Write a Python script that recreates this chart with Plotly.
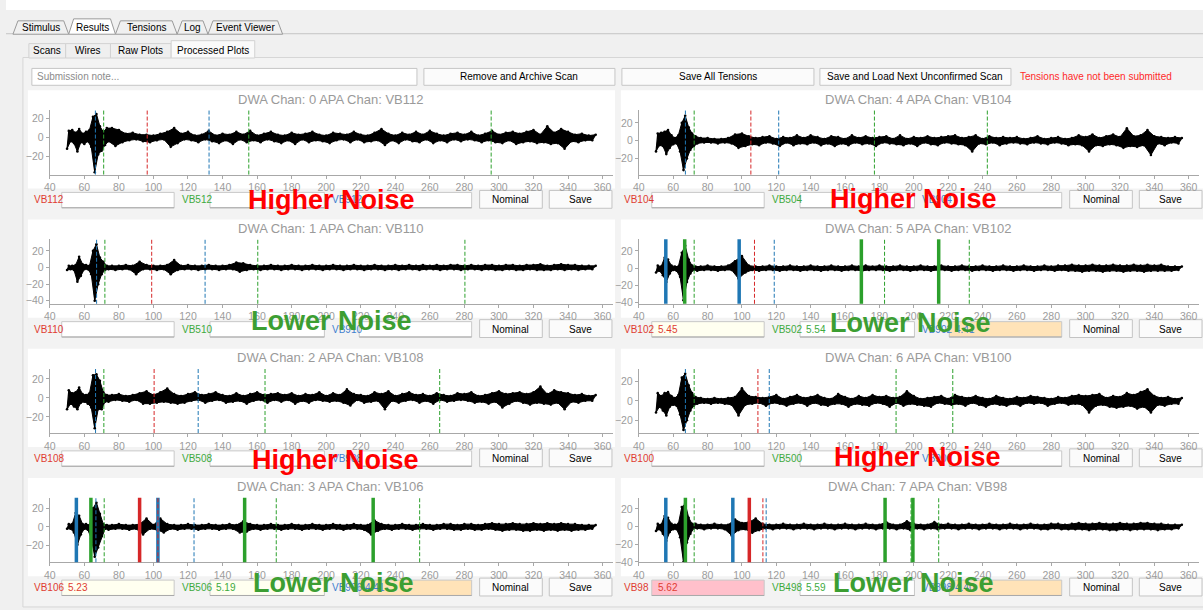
import plotly.graph_objects as go

W, H = 1203, 610

# ---------------------------------------------------------------- data
# Signal extremes: 1 Hz spacing through the low-frequency burst, 2 Hz after.
# Entries alternate between the lower (even positions) and upper (odd
# positions) edge of the recorded trace.
SAMPLE_X = list(range(50, 75)) + list(range(76, 357, 2))

SIGNAL_VB112 = [
    -12, 7, -4, 8, -6, 5, -15, 9, -5, 4,
    -7, 6, -4, 8, -10, 22, -37, 25, -18, 12,
    -14, 6, -8, 10, -4,
    10, -9, 8, -5, 4, -3, 5, -2, 3, -4,
    3, -5, 2, -3, 4, -2, 6, -10, 10, -6,
    4, -2, 6, -3, 2, -5, 3, -2, 7, -4,
    2, -6, 4, -3, 3, -7, 6, -2, 3, -5,
    7, -3, 2, -5, 4, -2, 6, -4, 3, -6,
    2, -3, 5, -7, 3, -2, 4, -5, 6, -3,
    3, -4, 2, -6, 5, -3, 4, -2, 3, -5,
    6, -2, 3, -5, 2, -4, 5, -3, 9, -8,
    4, -3, 2, -6, 5, -2, 3, -4, 6, -5,
    3, -2, 7, -6, 4, -3, 2, -5, 4, -2,
    5, -4, 3, -2, 6, -3, 2, -5, 4, -3,
    7, -5, 3, -6, 5, -3, 6, -7, 4, -5,
    6, -4, 8, -6, 3, -5, 12, -7, 5, -6,
    9, -12, 6, -4, 3, -5, 4, -3, 2, -3,
    3,
]
SIGNAL_VB104 = [
    -12, 8, -5, 9, -6, 10, -15, 12, -8, 6,
    -4, 3, -3, 6, -12, 20, -33, 28, -20, 15,
    -10, 8, -6, 5, -3,
    3, -2, 3, -2, 2, -3, 2, -2, 3, -3,
    7, -8, 8, -6, 5, -4, 3, -5, 4, -2,
    5, -3, 2, -6, 4, -2, 3, -5, 6, -3,
    3, -4, 6, -2, 4, -5, 2, -3, 5, -6,
    4, -3, 2, -5, 6, -2, 3, -4, 5, -3,
    3, -6, 4, -2, 5, -3, 2, -4, 6, -5,
    2, -3, 4, -6, 3, -2, 5, -4, 3, -5,
    4, -2, 5, -3, 6, -4, 3, -5, 4, -12,
    6, -3, 2, -4, 5, -2, 3, -5, 4, -3,
    3, -2, 4, -3, 2, -4, 3, -2, 5, -3,
    2, -4, 3, -2, 4, -3, 2, -5, 3, -4,
    6, -5, 4, -12, 7, -5, 3, -6, 5, -4,
    7, -5, 4, -8, 14, -6, 5, -7, 6, -5,
    12, -16, 5, -3, 4, -5, 3, -2, 4, -3,
    3,
]
SIGNAL_VB110 = [
    -3, 2, -2, 2, -3, 3, -17, 13, -10, 4,
    -2, 3, -2, 2, -8, 20, -40, 28, -20, 12,
    -8, 7, -3, 2, -2,
    2, -3, 2, -2, 3, -2, 2, -8, 7, -2,
    3, -2, 2, -3, 2, -2, 3, -8, 9, -3,
    2, -2, 3, -2, 2, -3, 2, -2, 3, -2,
    2, -3, 2, -2, 3, -2, 6, -5, 5, -3,
    3, -2, 2, -3, 2, -2, 3, -2, 2, -3,
    2, -2, 3, -2, 2, -3, 2, -2, 3, -2,
    2, -3, 2, -2, 3, -2, 2, -3, 2, -2,
    3, -2, 2, -3, 2, -2, 3, -2, 2, -3,
    2, -2, 3, -3, 2, -2, 3, -2, 2, -3,
    3, -2, 2, -2, 3, -3, 2, -2, 3, -2,
    3, -3, 2, -2, 3, -2, 2, -3, 3, -2,
    3, -3, 2, -3, 3, -2, 3, -3, 2, -3,
    3, -2, 3, -3, 4, -3, 2, -3, 3, -2,
    4, -3, 3, -2, 3, -3, 2, -2, 2, -2,
    2,
]
SIGNAL_VB102 = [
    -5, 3, -3, 2, -8, 12, -16, 10, -6, 3,
    -2, 2, -3, 2, -10, 18, -37, 26, -16, 10,
    -6, 3, -2, 2, -3,
    2, -2, 3, -2, 2, -3, 2, -2, 3, -2,
    8, -12, 14, -5, 3, -2, 2, -3, 2, -2,
    3, -2, 2, -3, 2, -2, 3, -2, 2, -3,
    2, -2, 3, -2, 2, -3, 2, -2, 3, -2,
    2, -3, 2, -2, 3, -2, 2, -3, 3, -2,
    2, -2, 3, -2, 2, -3, 2, -2, 3, -2,
    2, -3, 2, -2, 3, -2, 2, -3, 2, -2,
    3, -2, 2, -3, 2, -2, 3, -2, 2, -3,
    2, -2, 3, -2, 2, -3, 2, -2, 3, -2,
    2, -3, 2, -2, 3, -2, 2, -3, 2, -2,
    3, -2, 2, -3, 3, -2, 3, -3, 4, -3,
    3, -4, 3, -3, 4, -3, 3, -4, 3, -3,
    4, -3, 3, -4, 3, -3, 4, -3, 3, -4,
    4, -3, 3, -3, 4, -3, 2, -3, 2, -2,
    2,
]
SIGNAL_VB108 = [
    -12, 8, -6, 5, -9, 6, -12, 11, -5, 4,
    -4, 3, -6, 5, -10, 24, -32, 25, -12, 18,
    -12, 6, -4, 3, -4,
    3, -2, 4, -3, 2, -4, 3, -2, 5, -6,
    7, -6, 3, -5, 6, -4, 10, -5, 4, -6,
    2, -5, 4, -3, 6, -2, 3, -5, 4, -3,
    6, -2, 3, -5, 2, -4, 5, -3, 2, -6,
    4, -3, 6, -2, 3, -5, 4, -2, 5, -4,
    3, -2, 5, -6, 2, -3, 4, -5, 3, -2,
    6, -3, 2, -4, 5, -3, 3, -5, 9, -8,
    4, -2, 3, -5, 2, -4, 6, -3, 4, -12,
    7, -3, 2, -5, 4, -3, 6, -2, 3, -5,
    4, -3, 2, -6, 5, -2, 3, -4, 2, -3,
    5, -2, 4, -3, 6, -5, 2, -4, 3, -6,
    5, -4, 7, -10, 4, -6, 5, -3, 6, -5,
    4, -7, 6, -5, 12, -6, 4, -7, 8, -5,
    6, -12, 5, -4, 3, -5, 4, -3, 2, -3,
    3,
]
SIGNAL_VB100 = [
    -12, 8, -6, 5, -10, 8, -15, 9, -6, 5,
    -4, 3, -5, 6, -14, 24, -30, 28, -20, 16,
    -10, 8, -5, 4, -3,
    3, -2, 2, -3, 3, -2, 2, -3, 3, -4,
    4, -15, 13, -4, 5, -3, 4, -2, 3, -5,
    4, -2, 6, -3, 2, -5, 4, -3, 6, -2,
    3, -5, 4, -2, 6, -4, 3, -5, 2, -3,
    7, -3, 4, -6, 2, -3, 5, -4, 3, -5,
    6, -2, 4, -3, 5, -6, 3, -2, 4, -5,
    10, -3, 5, -4, 2, -5, 3, -6, 4, -2,
    5, -3, 2, -4, 6, -3, 4, -5, 3, -2,
    5, -4, 3, -6, 2, -3, 5, -4, 3, -5,
    2, -3, 4, -5, 3, -2, 5, -3, 4, -2,
    3, -5, 2, -3, 4, -2, 3, -4, 5, -3,
    6, -4, 5, -12, 6, -5, 7, -4, 3, -6,
    5, -7, 4, -6, 8, -5, 6, -8, 9, -6,
    12, -12, 5, -4, 3, -5, 4, -3, 2, -3,
    3,
]
SIGNAL_VB106 = [
    -2, 3, -2, 3, -6, 15, -19, 12, -8, 3,
    -2, 3, -3, 2, -12, 20, -32, 26, -22, 14,
    -10, 3, -2, 2, -3,
    2, -2, 3, -2, 2, -3, 2, -2, 3, -8,
    9, -2, 2, -3, 9, -6, 3, -2, 2, -3,
    2, -2, 3, -2, 2, -3, 2, -2, 3, -2,
    2, -3, 2, -2, 3, -2, 2, -6, 6, -5,
    3, -2, 2, -3, 2, -2, 3, -2, 2, -3,
    2, -2, 3, -2, 2, -3, 2, -2, 3, -2,
    2, -3, 2, -2, 3, -2, 2, -3, 2, -2,
    3, -2, 2, -3, 2, -8, 7, -4, 3, -2,
    2, -3, 2, -2, 3, -2, 2, -3, 2, -2,
    3, -2, 2, -3, 2, -2, 3, -2, 3, -3,
    2, -3, 3, -2, 3, -3, 2, -3, 3, -2,
    4, -3, 3, -4, 3, -3, 4, -3, 3, -4,
    3, -4, 4, -3, 3, -4, 4, -3, 3, -4,
    4, -3, 3, -4, 3, -3, 2, -3, 2, -2,
    2,
]
SIGNAL_VB98 = [
    -5, 3, -3, 2, -8, 12, -16, 10, -6, 3,
    -3, 2, -3, 3, -12, 22, -40, 26, -18, 10,
    -8, 3, -2, 3, -2,
    2, -3, 2, -2, 3, -2, 2, -3, 2, -10,
    8, -4, 4, -3, 5, -7, 9, -4, 3, -2,
    2, -3, 2, -2, 3, -2, 2, -3, 2, -2,
    3, -2, 2, -3, 2, -2, 3, -2, 2, -3,
    2, -2, 3, -2, 2, -3, 2, -2, 3, -2,
    2, -3, 2, -2, 5, -2, 2, -3, 2, -2,
    6, -4, 3, -2, 2, -3, 2, -2, 5, -3,
    2, -2, 3, -2, 2, -3, 2, -2, 3, -2,
    2, -3, 2, -2, 3, -2, 2, -3, 2, -2,
    3, -2, 2, -3, 2, -2, 3, -2, 2, -3,
    2, -3, 3, -2, 3, -3, 2, -3, 3, -3,
    4, -3, 3, -4, 3, -3, 4, -3, 3, -4,
    3, -4, 4, -3, 3, -4, 3, -3, 4, -3,
    4, -3, 3, -4, 3, -3, 2, -3, 2, -2,
    2,
]

# panel order: row by row, left then right
DWA_CHANNELS = [0, 4, 1, 5, 2, 6, 3, 7]
APA_CHANNELS = ["VB112", "VB104", "VB110", "VB102", "VB108", "VB100", "VB106", "VB98"]
LAYER_V = ["VB512", "VB504", "VB510", "VB502", "VB508", "VB500", "VB506", "VB498"]
LAYER_X = ["VB912", "VB904", "VB910", "VB902", "VB908", "VB900", "VB906", "VB898"]
SIGNALS = [SIGNAL_VB112, SIGNAL_VB104, SIGNAL_VB110, SIGNAL_VB102,
           SIGNAL_VB108, SIGNAL_VB100, SIGNAL_VB106, SIGNAL_VB98]
Y_RANGES = [[-39.5, 29.2], [-38, 34.4], [-43.6, 33.9], [-41.2, 33.5],
            [-37, 31], [-33.2, 33.4], [-37.9, 31.3], [-40.3, 32.5]]

TENSION_U = ["", "", "", "5.45", "", "", "5.23", "5.62"]
TENSION_V = ["", "", "", "5.54", "", "", "5.19", "5.59"]
TENSION_X = ["", "", "", "4.41", "", "", "4.41", "4.40"]
NOISE_NOTES = ["Higher Noise", "Higher Noise", "Lower Noise", "Lower Noise",
               "Higher Noise", "Higher Noise", "Lower Noise", "Lower Noise"]

# resonance markers: dashed = expected, solid = fitted
EXPECTED_U = [[96.4], [105.2], [99.0], [107.3], [100.4], [109.3], [102.6], [112.2]]
EXPECTED_V = [[71.2, 155.2, 295.5], [72.2, 177.1, 242.8], [71.9, 160.4, 280.3],
              [72.2, 183.0, 232.3], [71.3, 164.6, 265.7], [72.2, 189.7, 222.7],
              [71.5, 171.1, 254.1], [72.2, 198.4, 214.5]]
EXPECTED_X = [[66.4, 132.2], [67.1, 121.4], [67.1, 129.9], [118.8],
              [66.5, 125.9], [67.1, 115.9], [66.7, 123.5], [114.1]]
FOUND_U = [[], [], [], [], [], [], [92.0], [104.3]]
FOUND_V = [[], [], [], [66.7, 169.5, 214.5], [], [], [63.8, 152.8, 227.2], [67.1, 183.3, 199.5]]
FOUND_X = [[], [], [], [55.7, 98.4], [], [], [55.4, 102.6], [55.7, 94.7]]

# ---------------------------------------------------------------- styling
C_U, C_V, C_X = "#d62728", "#2ca02c", "#1f77b4"
LBL_U, LBL_V, LBL_X = "#e03c31", "#3daa3d", "#3f7fcf"
GUI_FONT = "Liberation Sans, Arial, sans-serif"
AXIS_GREY = "#a8a8a8"
TICK_GREY = "#9c9c9c"
ROW_STEP = 130.3
COL_STEP = 593
BOX_FILLS = {3: ["#fffff0", "#ffffff", "#ffe3b8"],
             6: ["#fffff0", "#fffff0", "#ffe3b8"],
             7: ["#ffc0cb", "#ffffff", "#ffe3b8"]}


def px(x):
    return x / W


def py(y):
    return 1 - y / H


shapes = []
annotations = []


def rect(x0, y0, x1, y1, fill, line="#c9c9c9", width=1, layer="below"):
    shapes.append(dict(type="rect", xref="paper", yref="paper",
                       x0=px(x0), x1=px(x1), y0=py(y1), y1=py(y0),
                       fillcolor=fill, line=dict(color=line, width=width), layer=layer))


def path(d_pts, fill, line="#a0a0a0"):
    d = "M " + " L ".join(f"{px(a):.5f},{py(b):.5f}" for a, b in d_pts) + " Z"
    shapes.append(dict(type="path", xref="paper", yref="paper", path=d,
                       fillcolor=fill, line=dict(color=line, width=1), layer="below"))


def text(x, y, s, size=10, color="#000000", anchor="center", bold=False, family=GUI_FONT):
    annotations.append(dict(x=px(x), y=py(y), xref="paper", yref="paper", text=s,
                            showarrow=False, xanchor=anchor, yanchor="middle",
                            font=dict(size=size, color=color, family=family,
                                      weight="bold" if bold else "normal")))


# ---------------------------------------------------------------- window chrome
rect(0, 0, W, 10, "#ffffff", line="rgba(0,0,0,0)")
rect(17, 58, W + 2, H + 2, "#f3f3f3", line="#d6d6d6")

top_tabs = [("Stimulus", 7, 63), ("Results", 63, 110), ("Tensions", 110, 172),
            ("Log", 172, 203), ("Event Viewer", 203, 278)]
shapes.append(dict(type="line", xref="paper", yref="paper", x0=0, x1=1,
                   y0=py(34), y1=py(34), line=dict(color="#c4c4c4", width=1), layer="below"))
for name, a, b in top_tabs:
    sel = name == "Results"
    top = 19 if sel else 21
    path([(a, 34.5), (a + 5, top), (b - 5, top), (b, 34.5)],
         "#ffffff" if sel else "#f0f0f0", line="#9a9a9a")
    text((a + b) / 2, 27.5, name, size=10)

sub_tabs = [("Scans", 23, 60), ("Wires", 60, 105), ("Raw Plots", 105, 166),
            ("Processed Plots", 166, 250)]
for name, a, b in sub_tabs:
    sel = name == "Processed Plots"
    rect(a, 41 if sel else 44, b, 58.5, "#fafafa" if sel else "#efefef", line="#d2d2d2")
    text((a + b) / 2, 51, name, size=10)

rect(26, 69, 413, 86, "#ffffff", line="#c6c6c6")
text(29, 77.5, "Submission note...", size=10, color="#8c8c8c", anchor="left")
for label, a, b in [("Remove and Archive Scan", 420, 612), ("Save All Tensions", 619, 812),
                    ("Save and Load Next Unconfirmed Scan", 818, 1010)]:
    rect(a, 69, b, 86, "#fbfbfb", line="#c6c6c6")
    text((a + b) / 2, 77.5, label, size=10)
text(1017, 77.5, "Tensions have not been submitted", size=10, color="#ff2a2a", anchor="left")

# ---------------------------------------------------------------- plot panels
fig = go.Figure()
layout_axes = {}

for k in range(8):
    col, row = k % 2, k // 2
    off_y = row * ROW_STEP
    off_x = col * COL_STEP
    sfx = "" if k == 0 else str(k + 1)
    xa, ya = "x" + sfx, "y" + sfx

    # white plot widget background
    rect(22 if col == 0 else 618, 91 + off_y,
         612 if col == 0 else W + 2, 190 + off_y, "#ffffff", line="rgba(0,0,0,0)")

    left, right = (44, 610) if col == 0 else (636, 1199)
    top, bottom = 111 + off_y, 176 + off_y

    # trace body: band between the lower and upper edges, plus the raw zigzag
    sig = SIGNALS[k]
    fig.add_trace(go.Scatter(
        x=SAMPLE_X[0::2], y=sig[0::2], mode="lines+markers",
        line=dict(color="#000000", width=1), marker=dict(color="#000000", size=2.6),
        xaxis=xa, yaxis=ya, showlegend=False, hoverinfo="skip"))
    fig.add_trace(go.Scatter(
        x=SAMPLE_X[1::2], y=sig[1::2], mode="lines+markers", fill="tonexty",
        fillcolor="#000000", line=dict(color="#000000", width=1),
        marker=dict(color="#000000", size=2.6),
        xaxis=xa, yaxis=ya, showlegend=False, hoverinfo="skip"))
    fig.add_trace(go.Scatter(
        x=SAMPLE_X, y=sig, mode="lines", line=dict(color="#000000", width=1.2),
        xaxis=xa, yaxis=ya, showlegend=False, hoverinfo="skip"))

    lo, hi = Y_RANGES[k]
    yticks = [v for v in (20, 0, -20, -40) if lo <= v <= hi]
    axis_common = dict(showgrid=False, zeroline=False, showline=True, linecolor=AXIS_GREY,
                       linewidth=1, ticks="outside", ticklen=3, tickcolor=AXIS_GREY,
                       tickfont=dict(size=10.5, color=TICK_GREY, family=GUI_FONT),
                       fixedrange=True)
    layout_axes["xaxis" + sfx] = dict(domain=[px(left), px(right)], range=[40, 366],
                                      anchor=ya, tickvals=list(range(40, 361, 20)),
                                      **axis_common)
    layout_axes["yaxis" + sfx] = dict(domain=[py(bottom), py(top)], range=[lo, hi],
                                      anchor=xa, tickvals=yticks, **axis_common)

    # resonance markers
    for vals, colr in ((FOUND_X[k], C_X), (FOUND_V[k], C_V), (FOUND_U[k], C_U)):
        for v in vals:
            shapes.append(dict(type="line", xref=xa, yref=ya + " domain", x0=v, x1=v,
                               y0=0, y1=1, line=dict(color=colr, width=3.5), layer="above"))
    for vals, colr in ((EXPECTED_X[k], C_X), (EXPECTED_V[k], C_V), (EXPECTED_U[k], C_U)):
        for v in vals:
            shapes.append(dict(type="line", xref=xa, yref=ya + " domain", x0=v, x1=v,
                               y0=0, y1=1, line=dict(color=colr, width=1, dash="4px,2px"),
                               layer="above"))

    text((left + right) / 2 - 1, 100 + off_y,
         f"DWA Chan: {DWA_CHANNELS[k]} APA Chan: {APA_CHANNELS[k]}",
         size=13, color="#9a9a9a")

    # tension entry row
    cy = 201.5 + off_y
    fills = BOX_FILLS.get(k, ["#ffffff", "#ffffff", "#ffffff"])
    entries = [(APA_CHANNELS[k], LBL_U, TENSION_U[k], 26, 56, 169),
               (LAYER_V[k], LBL_V, TENSION_V[k], 175, 205, 320),
               (LAYER_X[k], LBL_X, TENSION_X[k], 326, 355, 468)]
    for (name, colr, val, lx, b0, b1), fill in zip(entries, fills):
        text(lx + off_x, cy, name, size=10, color=colr, anchor="left")
        rect(b0 + off_x, 194 + off_y, b1 + off_x, 209.5 + off_y, fill, line="#c8c8c8")
        shapes.append(dict(type="line", xref="paper", yref="paper",
                           x0=px(b0 + off_x), x1=px(b1 + off_x),
                           y0=py(209.5 + off_y), y1=py(209.5 + off_y),
                           line=dict(color="#a9a9a9", width=1), layer="below"))
        if val:
            text(b0 + off_x + 4, cy, val, size=10, color=colr, anchor="left")
    for label, a, b in (("Nominal", 476, 539), ("Save", 546, 609)):
        rect(a + off_x, 192 + off_y, b + off_x, 210 + off_y, "#fbfbfb", line="#c4c4c4")
        text((a + b) / 2 + off_x, cy, label, size=10)

# quality notes drawn over the entry rows
NOTE_POS = [(327, 202), (912, 201), (327, 324), (909, 325.5),
            (331, 463.5), (916, 460.5), (329, 588), (912, 588)]
for k in range(8):
    note = NOISE_NOTES[k]
    colr = "#ff0000" if note.startswith("Higher") else "#3c9e32"
    x, y = NOTE_POS[k]
    text(x, y, note, size=27, color=colr, bold=True,
         family="Liberation Sans, Arial, sans-serif")

fig.update_layout(
    width=W, height=H, margin=dict(l=0, r=0, t=0, b=0),
    paper_bgcolor="#f0f0f0", plot_bgcolor="rgba(0,0,0,0)",
    shapes=shapes, annotations=annotations, showlegend=False,
    **layout_axes,
)

fig.write_html("out.html", config=dict(displayModeBar=False))
